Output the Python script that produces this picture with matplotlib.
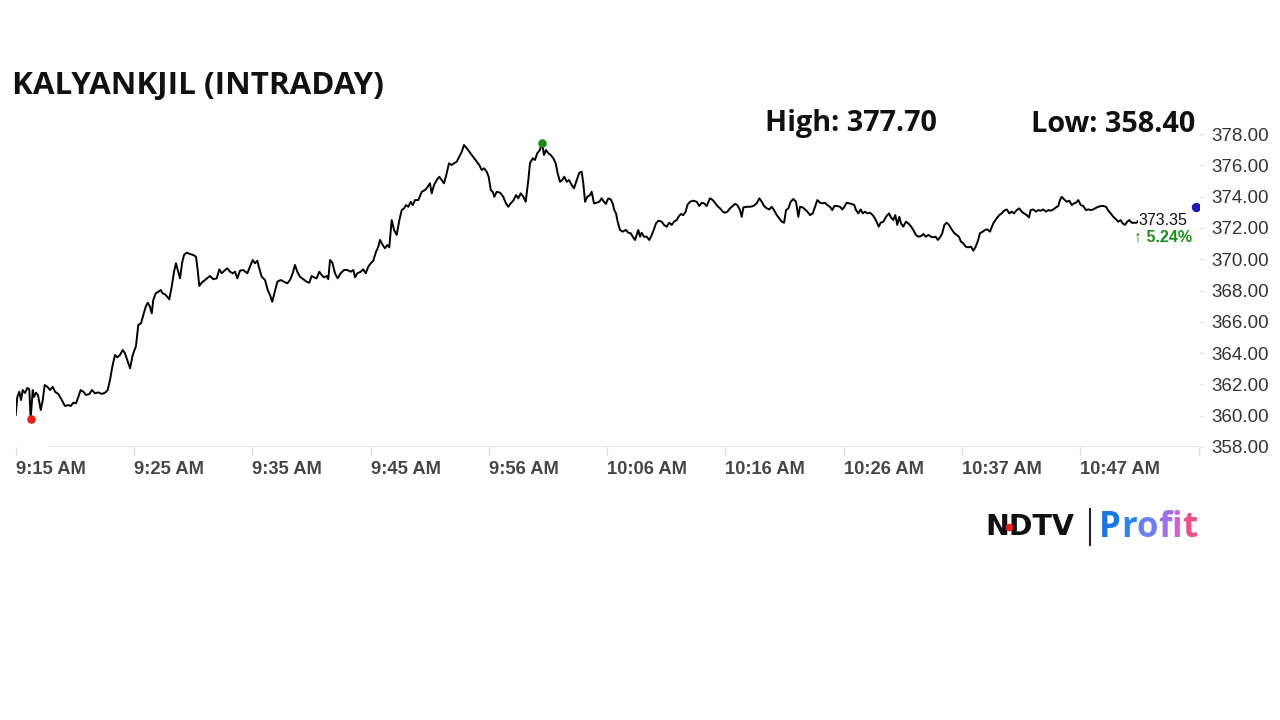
import matplotlib.pyplot as plt
from matplotlib.lines import Line2D
from matplotlib.patches import Rectangle
import numpy as np

# intraday ticks: minutes after 9:15 AM and traded price
minutes = [
    0.00, 0.14, 0.31, 0.46, 0.60, 0.80, 1.00, 1.17, 1.29, 1.47, 1.58, 1.75, 1.92, 2.16, 2.33, 2.50,
    2.72, 2.96, 3.19, 3.39, 3.67, 3.97, 4.25, 4.54, 4.74, 4.97, 5.20, 5.40, 5.60, 5.83, 6.06, 6.35,
    6.58, 6.84, 7.12, 7.42, 7.70, 7.93, 8.13, 8.33, 8.56, 8.76, 8.99, 9.23, 9.42, 9.62, 9.86, 10.09,
    10.37, 10.57, 10.80, 11.00, 11.21, 11.38, 11.58, 11.73, 11.86, 12.07, 12.30, 12.50, 12.67, 12.87,
    13.07, 13.24, 13.45, 13.65, 13.82, 13.97, 14.17, 14.34, 14.51, 14.74, 15.03, 15.31, 15.55, 15.69,
    15.83, 16.04, 16.32, 16.61, 16.75, 17.04, 17.33, 17.56, 17.76, 18.05, 18.24, 18.48, 18.71, 18.91,
    19.11, 19.34, 19.62, 19.97, 20.20, 20.43, 20.63, 20.83, 21.00, 21.21, 21.50, 21.73, 21.93, 22.12,
    22.30, 22.56, 22.85, 23.13, 23.42, 23.65, 23.88, 24.08, 24.28, 24.51, 24.80, 25.09, 25.31, 25.52,
    25.72, 25.95, 26.18, 26.38, 26.58, 26.81, 26.95, 27.10, 27.30, 27.53, 27.76, 28.02, 28.31, 28.59,
    28.88, 29.11, 29.26, 29.45, 29.75, 29.97, 30.18, 30.40, 30.61, 30.83, 31.07, 31.26, 31.41, 31.64,
    31.84, 32.04, 32.21, 32.42, 32.62, 32.85, 33.08, 33.28, 33.48, 33.65, 33.85, 34.06, 34.23, 34.43,
    34.71, 35.01, 35.29, 35.49, 35.72, 35.87, 36.07, 36.30, 36.52, 36.73, 36.93, 37.16, 37.36, 37.59,
    37.79, 38.02, 38.25, 38.46, 38.65, 38.89, 39.11, 39.32, 39.52, 39.75, 39.97, 40.18, 40.38, 40.61,
    40.78, 40.96, 41.13, 41.27, 41.47, 41.76, 42.04, 42.27, 42.47, 42.68, 42.90, 43.14, 43.33, 43.54,
    43.77, 43.97, 44.20, 44.34, 44.58, 44.77, 44.97, 45.20, 45.38, 45.55, 45.72, 45.92, 46.13, 46.35,
    46.56, 46.73, 46.93, 47.13, 47.30, 47.51, 47.71, 47.94, 48.14, 48.37, 48.60, 48.80, 48.94, 49.09,
    49.28, 49.52, 49.66, 49.86, 50.09, 50.32, 50.52, 50.72, 50.89, 51.09, 51.30, 51.47, 51.61, 51.76,
    51.90, 52.10, 52.33, 52.62, 52.82, 53.03, 53.20, 53.40, 53.54, 53.68, 53.83, 53.97, 54.17, 54.40,
    54.63, 54.84, 55.03, 55.21, 55.41, 55.70, 55.90, 56.13, 56.35, 56.56, 56.76, 56.99, 57.19, 57.36,
    57.56, 57.77, 57.91, 58.14, 58.42, 58.72, 58.94, 59.15, 59.35, 59.58, 59.86, 60.10, 60.29, 60.49,
    60.73, 60.96, 61.16, 61.36, 61.59, 61.82, 62.02, 62.22, 62.45, 62.60, 62.74, 63.03, 63.31, 63.60,
    63.89, 64.12, 64.33, 64.52, 64.76, 64.98, 65.18, 65.38, 65.62, 65.84, 66.05, 66.25, 66.42, 66.62,
    66.82, 67.05, 67.28, 67.48, 67.62, 67.86, 68.06, 68.26, 68.49, 68.72, 68.92, 69.12, 69.35, 69.58,
    69.78, 69.98, 70.21, 70.41, 70.58, 70.84, 71.08, 71.27, 71.45, 71.65, 71.87, 72.08, 72.31, 72.45,
    72.65, 72.86, 73.03, 73.23, 73.43, 73.66, 73.89, 74.09, 74.29, 74.41, 74.58, 74.81, 75.04, 75.30,
    75.47, 75.67, 75.84, 76.01, 76.19, 76.33, 76.53, 76.76, 76.96, 77.17, 77.39, 77.62, 77.82, 78.06,
    78.26, 78.46, 78.69, 78.92, 79.12, 79.33, 79.50, 79.70, 79.89, 80.07, 80.27, 80.47, 80.70, 80.90,
    81.13, 81.33, 81.50, 81.70, 81.91, 82.13, 82.37, 82.57, 82.77, 82.94, 83.14, 83.38, 83.58, 83.77,
    84.00, 84.29, 84.58, 84.81, 85.02, 85.21, 85.45, 85.67, 85.88, 86.07, 86.31, 86.53, 86.74, 86.94,
    87.17, 87.37, 87.51, 87.74, 87.97, 88.17, 88.38, 88.60, 88.83, 89.03, 89.24, 89.46, 89.70, 89.89,
    90.04, 90.19, 90.39, 90.62, 90.85, 91.05, 91.25, 91.42, 91.62, 91.83, 92.05, 92.28, 92.48, 92.77,
    93.06, 93.34, 93.58, 93.78, 94.01, 94.21, 94.41, 94.64, 94.87, 95.06, 95.27, 95.44, 95.64, 95.84,
    96.02, 96.22, 96.42, 96.65, 96.94, 97.37, 97.80, 98.66, 99.52, 100.39, 101.25, 101.77,
]
prices = [
    360.05, 361.20, 361.53, 361.00, 361.64, 361.45, 361.77, 361.70, 359.80, 361.64, 361.20, 361.47, 361.32, 360.36, 361.00, 361.96,
    361.85, 361.64, 361.85, 361.53, 361.39, 361.00, 360.62, 360.68, 360.62, 360.83, 360.79, 361.20, 361.64, 361.53, 361.32, 361.39,
    361.64, 361.43, 361.49, 361.39, 361.47, 361.64, 362.28, 363.13, 363.88, 363.73, 363.88, 364.20, 363.99, 363.56, 363.03, 363.88,
    364.45, 365.80, 365.90, 366.43, 366.96, 367.22, 366.96, 366.54, 367.39, 367.82, 367.92, 368.03, 367.82, 367.76,
    367.60, 367.44, 368.24, 369.20, 369.74, 369.31, 368.78, 369.74, 370.27, 370.42, 370.33, 370.27, 370.16, 369.31,
    368.29, 368.50, 368.67, 368.84, 368.93, 368.72, 368.78, 369.35, 369.10, 369.31, 369.42, 369.20, 369.10, 369.20,
    368.78, 369.27, 369.31, 369.10, 369.52, 369.95, 369.74, 369.90, 369.42, 368.88, 368.67, 368.03, 367.71, 367.28,
    367.82, 368.56, 368.67, 368.56, 368.46, 368.67, 369.10, 369.63, 369.20, 368.88, 368.72, 368.56, 368.50, 368.93,
    368.84, 368.78, 369.20, 368.99, 368.84, 368.93, 368.72, 369.95, 369.78, 369.10, 368.78, 369.10, 369.31, 369.31,
    369.20, 369.31, 368.84, 369.10, 369.20, 369.35, 369.10, 369.52, 369.74, 369.90, 370.48, 370.80, 371.23, 370.91,
    370.70, 370.91, 370.76, 372.50, 371.87, 371.55, 372.50, 373.14, 373.25, 373.46, 373.35, 373.67, 373.46, 373.78,
    373.78, 374.31, 374.42, 374.59, 374.85, 374.21, 374.74, 375.06, 375.27, 375.06, 374.85, 375.49, 376.13, 376.02,
    376.13, 376.23, 376.55, 376.87, 377.30, 377.09, 376.87, 376.66, 376.45, 376.23, 376.02, 375.70, 375.81, 375.59,
    375.27, 374.42, 374.31, 373.99, 374.31, 374.25, 373.99, 373.57, 373.35, 373.57, 373.74, 374.10, 373.89, 374.21,
    373.99, 373.67, 375.06, 376.13, 376.45, 376.34, 376.77, 376.98, 377.45, 376.66, 376.98, 376.77, 376.66, 376.45,
    376.13, 375.49, 374.95, 375.06, 375.27, 374.95, 375.06, 374.74, 374.53, 375.06, 375.53, 375.59, 374.85, 373.67,
    373.99, 374.10, 374.31, 373.57, 373.61, 373.67, 373.89, 373.67, 373.53, 373.89, 373.83, 373.57, 373.14, 372.93,
    372.40, 371.87, 371.76, 371.87, 371.69, 371.66, 371.44, 371.23, 371.55, 371.87, 371.44, 371.69, 371.44, 371.44,
    371.23, 371.55, 371.91, 372.29, 372.46, 372.40, 372.19, 372.08, 372.33, 372.19, 372.40, 372.50, 372.76, 372.89,
    372.82, 373.04, 373.46, 373.67, 373.74, 373.67, 373.40, 373.61, 373.57, 373.40, 373.89, 373.78, 373.61, 373.40,
    373.25, 373.04, 372.97, 373.04, 373.25, 373.40, 373.53, 373.46, 373.14, 372.71, 373.31, 373.35, 373.35, 373.40,
    373.57, 373.89, 373.67, 373.40, 373.25, 373.18, 373.35, 373.14, 372.82, 372.61, 372.40, 372.33, 373.14, 373.25,
    373.67, 373.85, 373.67, 372.71, 373.35, 373.31, 373.18, 373.04, 372.82, 372.93, 373.35, 373.78, 373.61, 373.57,
    373.61, 373.46, 373.35, 373.14, 373.40, 373.40, 373.35, 373.18, 373.35, 373.61, 373.57, 373.53, 373.46, 373.14,
    372.93, 373.18, 372.93, 373.04, 372.93, 372.97, 372.82, 372.61, 372.29, 372.08, 372.33, 372.40, 372.71, 372.93,
    372.67, 372.50, 372.82, 372.19, 372.71, 372.29, 372.08, 372.40, 372.29, 372.12, 371.87, 371.55, 371.44, 371.48,
    371.61, 371.44, 371.55, 371.44, 371.40, 371.44, 371.23, 371.40, 371.66, 372.19, 372.33, 372.19, 371.91, 371.69,
    371.55, 371.44, 371.12, 371.02, 370.80, 370.76, 370.80, 370.54, 370.80, 371.12, 371.66, 371.76, 371.87, 371.91,
    371.76, 372.29, 372.61, 372.82, 372.93, 373.10, 373.18, 372.93, 373.04, 372.93, 373.14, 373.25, 373.04, 372.93,
    372.82, 372.67, 373.14, 373.18, 373.04, 373.14, 373.10, 373.18, 373.04, 373.14, 373.10, 373.18, 373.31, 373.40,
    373.78, 373.99, 373.83, 373.67, 373.74, 373.46, 373.57, 373.61, 373.78, 373.46, 373.40, 373.14, 373.18, 373.14,
    373.25, 373.35, 373.40, 373.40, 373.35, 373.10, 372.93, 372.71, 372.55, 372.40, 372.50, 372.29, 372.19, 372.40,
    372.50, 372.33, 372.33, 372.33, 372.60, 373.00, 373.40, 373.50, 373.45, 373.50, 373.40, 373.35,
]

tick_labels = ['9:15 AM', '9:25 AM', '9:35 AM', '9:45 AM', '9:56 AM',
               '10:06 AM', '10:16 AM', '10:26 AM', '10:37 AM', '10:47 AM', '']
tick_step = 10.2      # minutes between x labels
session_end = 102
y_ticks = np.arange(358, 379, 2)

symbol = 'KALYANKJIL'
day_high = 377.70
day_low = 358.40
last_price = 373.35
change_pct = 5.24

fig = plt.figure(figsize=(12.8, 7.2), dpi=100)
ax = fig.add_axes([0.01227, 0.37917, 0.92421, 0.44555])

ax.plot(minutes, prices, color='black', lw=1.4, zorder=3)

# low / high / last markers
i_lo = int(np.argmin(prices))
i_hi = int(np.argmax(prices))
ax.scatter([minutes[i_lo]], [prices[i_lo]], s=38, color='#e8221b', zorder=5, linewidths=0)
ax.scatter([minutes[i_hi]], [prices[i_hi]], s=38, color='#1d8a1d', zorder=5, linewidths=0)
ax.scatter([minutes[-1]], [prices[-1]], s=45, color='#1c1cb0', zorder=6, linewidths=0)

ax.set_xlim(0, session_end)
ax.set_ylim(358, 378.5)
for sp in ax.spines.values():
    sp.set_visible(False)

ax.hlines(358, 2.8, session_end, color='#e3e3e3', lw=1.3, zorder=1)

ax.set_xticks(np.arange(len(tick_labels)) * tick_step)
ax.set_xticklabels(tick_labels, ha='left', fontsize=13.2, fontweight='bold',
                   family='Liberation Sans', color='#454545')
ax.tick_params(axis='x', length=6, width=1, color='#dddddd', pad=4)
for lab in ax.get_xticklabels():
    lab.set_x(lab.get_position()[0])

ax.yaxis.tick_right()
ax.set_yticks(y_ticks)
ax.set_yticklabels([f'{v:.2f}' for v in y_ticks], fontsize=13.5,
                   family='Liberation Sans', color='#333333')
ax.tick_params(axis='y', length=3, width=1, color='#e6e6e6', pad=6)

# last price label box (covers the tail of the line)
ax.add_patch(Rectangle((96.8, 370.6), 4.6, 3.05, facecolor='white',
                       edgecolor='none', zorder=4))
ax.text(98.9, 372.5, f'{last_price:.2f}', ha='center', va='center', fontsize=11.5,
        family='Liberation Sans', color='#111111', zorder=7)
ax.text(98.9, 371.42, f'\u2191 {change_pct:.2f}%', ha='center', va='center', fontsize=11.5,
        fontweight='bold', family=['Liberation Sans', 'DejaVu Sans'], color='#1e8c1e', zorder=7)

# titles
fig.text(12 / 1280, 1 - 86 / 720, f'{symbol} (INTRADAY)', fontsize=22.6, fontweight='bold',
         family='Open Sans', color='#111111', va='center')
fig.text(765 / 1280, 1 - 124 / 720, f'High: {day_high:.2f}', fontsize=20.8, fontweight='bold',
         family='Open Sans', color='#111111', va='center')
fig.text(1195 / 1280, 1 - 124 / 720, f'Low: {day_low:.2f}', fontsize=20.8, fontweight='bold',
         family='Open Sans', color='#111111', va='center', ha='right')

# NDTV Profit logo
fig.text(985 / 1280, 1 - 527 / 720, 'NDTV', fontsize=20.5, fontweight='heavy',
         family='DejaVu Sans', color='#111111', va='center', zorder=1)
fig.add_artist(Line2D([1009 / 1280], [1 - 527 / 720], marker='o', ms=4.5, color='#e8221b',
                      transform=fig.transFigure, zorder=10))
fig.add_artist(Line2D([1090 / 1280, 1090 / 1280], [1 - 509 / 720, 1 - 545 / 720],
                      color='#222222', lw=1.5, transform=fig.transFigure))
grad = ['#1a78e0', '#2f86ea', '#6c80ef', '#a070ea', '#d35fd2', '#ea4f8e']
prev = fig.text(1099 / 1280, 1 - 528 / 720, 'P', fontsize=25, fontweight='bold',
                family='Open Sans', color=grad[0], va='center')
for ch, c in zip('rofit', grad[1:]):
    prev = ax.annotate(ch, xy=(1, 0), xycoords=prev, ha='left', va='bottom', fontsize=25,
                       fontweight='bold', family='Open Sans', color=c, annotation_clip=False)

fig.savefig('out.png', dpi=100, facecolor='white')
